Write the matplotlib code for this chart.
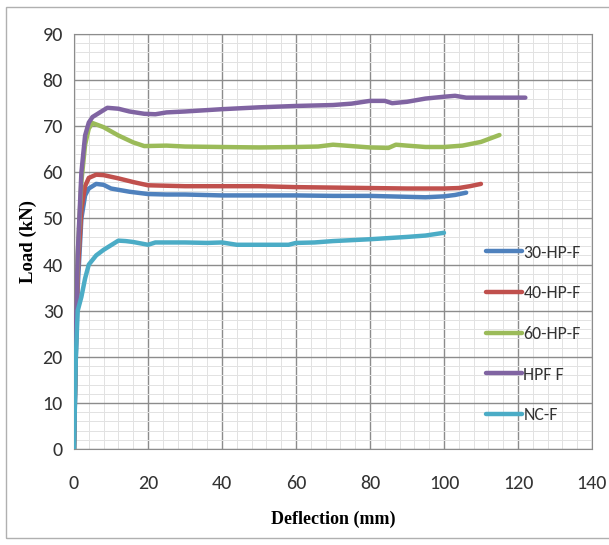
import matplotlib.pyplot as plt
from matplotlib.patches import Rectangle
from matplotlib.ticker import MultipleLocator

# deflection (mm) / load (kN)
d_30 = [0, 0.5, 1, 2, 3, 4, 6, 8, 10, 15, 20, 25, 30, 40, 50, 60, 70, 80, 90, 95, 100, 103, 106]
l_30 = [0, 20, 35, 50, 55, 56.5, 57.5, 57.3, 56.5, 55.8, 55.3, 55.2, 55.2, 55.0, 55.0, 55.0, 54.9, 54.9, 54.7, 54.6, 54.8, 55.1, 55.6]

d_40 = [0, 0.5, 1, 2, 3, 4, 6, 8, 12, 16, 20, 30, 40, 50, 60, 70, 80, 90, 100, 104, 107, 110]
l_40 = [0, 22, 38, 52, 57, 58.8, 59.5, 59.4, 58.7, 57.9, 57.2, 57.0, 57.0, 57.0, 56.8, 56.7, 56.6, 56.5, 56.5, 56.6, 57.0, 57.5]

d_60 = [0, 0.5, 1, 2, 3, 4, 5, 8, 12, 16, 19, 25, 30, 40, 50, 60, 66, 70, 75, 80, 85, 87, 90, 95, 100, 105, 110, 115]
l_60 = [0, 25, 42, 58, 66, 69.5, 70.7, 69.8, 68, 66.5, 65.7, 65.8, 65.6, 65.5, 65.4, 65.5, 65.6, 66.0, 65.7, 65.4, 65.3, 66.0, 65.8, 65.5, 65.5, 65.8, 66.6, 68.1]

d_hpf = [0, 0.5, 1, 2, 3, 4, 5, 7, 9, 12, 15, 19, 22, 25, 30, 40, 50, 60, 70, 75, 80, 84, 86, 90, 95, 100, 103, 106, 110, 122]
l_hpf = [0, 25, 42, 60, 68, 70.8, 72, 73, 74, 73.8, 73.2, 72.7, 72.6, 73.0, 73.2, 73.7, 74.1, 74.4, 74.6, 74.9, 75.5, 75.5, 75.0, 75.3, 76.0, 76.4, 76.6, 76.2, 76.2, 76.2]

d_nc = [0, 0.5, 1, 2, 3, 4, 6, 8, 10, 12, 14, 16, 18, 20, 22, 30, 36, 40, 44, 50, 58, 60, 65, 70, 80, 90, 95, 100]
l_nc = [0, 20, 30, 33, 37, 40, 42, 43.2, 44.2, 45.2, 45.1, 44.9, 44.6, 44.3, 44.8, 44.8, 44.7, 44.8, 44.3, 44.3, 44.3, 44.7, 44.8, 45.1, 45.5, 46.0, 46.3, 46.9]

series = [
    ("30-HP-F", d_30, l_30, "#4F81BD"),
    ("40-HP-F", d_40, l_40, "#C0504D"),
    ("60-HP-F", d_60, l_60, "#9BBB59"),
    ("HPF F", d_hpf, l_hpf, "#8064A2"),
    ("NC-F", d_nc, l_nc, "#4BACC6"),
]

sans = ["Carlito", "DejaVu Sans"]
serif = ["Liberation Serif", "DejaVu Serif"]

fig = plt.figure(figsize=(6.09, 5.45), dpi=100)
fig.patches.append(Rectangle((0.01, 0.012), 0.995, 0.975, transform=fig.transFigure,
                             fill=False, edgecolor="#b0b0b0", linewidth=1))
ax = fig.add_axes([0.1215, 0.176, 0.8505, 0.7616])

for name, x, y, c in series:
    ax.plot(x, y, color=c, linewidth=3.2, label=name, solid_capstyle="round", zorder=3)

ax.set_xlim(0, 140)
ax.set_ylim(0, 90)
ax.xaxis.set_major_locator(MultipleLocator(20))
ax.yaxis.set_major_locator(MultipleLocator(10))
ax.xaxis.set_minor_locator(MultipleLocator(4))
ax.yaxis.set_minor_locator(MultipleLocator(2))
ax.grid(which="major", color="#8c8c8c", linewidth=1)
ax.grid(which="minor", color="#e2e2e2", linewidth=0.7)
ax.set_axisbelow(True)
for s in ax.spines.values():
    s.set_color("#8c8c8c")
ax.tick_params(which="both", length=0, labelsize=14.5)
ax.tick_params(axis="y", pad=8)
ax.tick_params(axis="x", pad=19)
for lab in ax.get_xticklabels() + ax.get_yticklabels():
    lab.set_family(sans)
    lab.set_color("#333333")

ax.set_xlabel("Deflection (mm)", family=serif, fontweight="bold", fontsize=13, labelpad=13)
ax.set_ylabel("Load (kN)", family=serif, fontweight="bold", fontsize=13.5, labelpad=4)

leg = ax.legend(loc="upper left", bbox_to_anchor=(0.782, 0.51), frameon=False,
                prop={"family": sans, "size": 12.8}, labelspacing=1.39,
                handlelength=2.0, handletextpad=0.1, borderaxespad=0)
for t in leg.get_texts():
    t.set_color("#333333")

fig.savefig("out.png", dpi=100)
